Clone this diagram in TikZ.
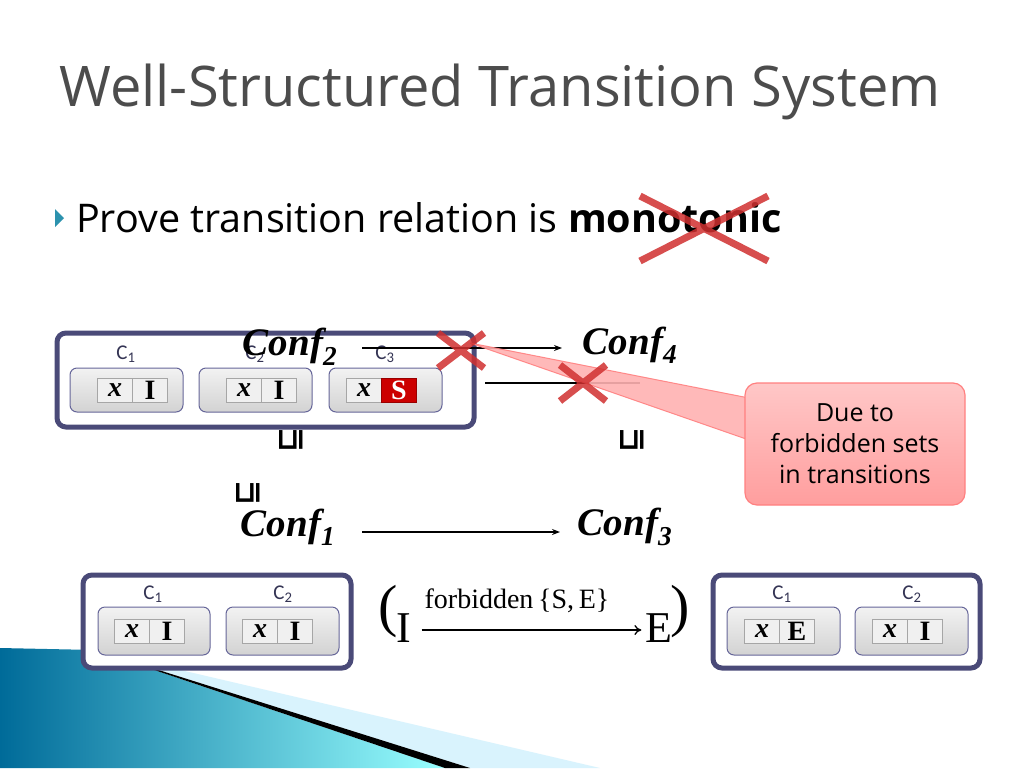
\documentclass[tikz,border=0pt]{standalone}
\usepackage{fontspec}
\setmainfont{Liberation Serif}
\newfontfamily\osfont{Open Sans}
\newfontfamily\calfont{Carlito}
\newfontfamily\djfont{DejaVu Sans}
\usetikzlibrary{arrows.meta,calc,shapes.geometric}
\definecolor{frame}{HTML}{4A4A78}
\definecolor{xred}{HTML}{D03030}
\tikzset{
 frame/.style={draw=frame,line width=5pt,rounded corners=9pt,fill=white},
 compbox/.style={draw=gray!80!blue,line width=1pt,rounded corners=7pt,top color=gray!10,bottom color=gray!35},
 cell/.style={draw=gray!70,line width=0.8pt,fill=gray!12,minimum height=24pt,minimum width=35pt,inner sep=0pt,font=\bfseries\fontsize{28}{28}\selectfont},
 xcell/.style={cell,font=\bfseries\itshape\fontsize{28}{28}\selectfont},
 clab/.style={font=\calfont\fontsize{21}{21}\selectfont,text=frame!70!black},
 conf/.style={font=\bfseries\itshape\fontsize{39}{39}\selectfont},
 arr/.style={-{Stealth[length=8pt,width=6pt]},line width=1.3pt},
 redx/.style={draw=xred,opacity=0.85,line width=7pt},
 order/.style={font=\djfont\bfseries\fontsize{30}{30}\selectfont,rotate=90},
}
\begin{document}
\begin{tikzpicture}[x=1pt,y=-1pt]
\useasboundingbox (0,0) rectangle (1024,768);
\fill[white] (0,0) rectangle (1024,768);
% decoration
\shade[left color=cyan!70!blue!60!black,right color=cyan!40] (0,648) -- (95,650) -- (445,768) -- (0,768) -- cycle;
\fill[cyan!15] (95,650) -- (600,768) -- (470,768) -- cycle;
\fill[black] (95,650) -- (470,768) -- (445,768) -- cycle;
% title
\node[font=\osfont\fontsize{56}{56}\selectfont,text=black!70] (title) at (500,92) {Well-Structured Transition System};
% bullet
\fill[frame!60!cyan] (55,209) -- (64,218) -- (55,227) -- cycle;
\node[anchor=base west,font=\osfont\fontsize{39.5}{39.5}\selectfont,inner sep=0pt] (bullet) at (76,232) {Prove transition relation is \textbf{monotonic}};
\draw[redx] (640,196) -- (768,261) (640,261) -- (768,196);
% top config
\draw[frame] (57,333) rectangle (474,427);
\foreach \xa/\lab in {70/1,199/2,329/3}{
 \draw[compbox] (\xa,368) rectangle ++(113,44);
 \node[clab] at (\xa+56,354) {C\textsubscript{\lab}};
}
\node[xcell] (a1) at (115,390) {x};
\node[cell] (b1) at (150,390) {I};
\node[xcell] (a2) at (244,390) {x};
\node[cell] (b2) at (279,390) {I};
\node[xcell] (a3) at (364,390) {x};
\node[cell,fill=red!80!black,draw=red!60!black,text=white] (b3) at (399,390) {S};
\node[conf] (c2) at (290,347) {Conf\textsubscript{2}};
\node[conf] (c4) at (630,345) {Conf\textsubscript{4}};
\coordinate (a2s) at (362,348); \coordinate (a2e) at (562,348);
\draw[arr] (a2s) -- (a2e);
\coordinate (b2s) at (485,383); \coordinate (b2e) at (640,383);
\draw[line width=1.3pt] (b2s) -- (b2e);
% callout
\draw[draw=red!50,fill=red!30,line width=1pt,opacity=0.9] (749,398) -- (470,343) -- (749,440);
\node[draw=red!50,line width=1.2pt,top color=red!22,bottom color=red!38,rounded corners=12pt,minimum width=220pt,minimum height=122pt,align=center,font=\osfont\fontsize{25}{31}\selectfont] (call) at (855,444) {Due to\\forbidden sets\\in transitions};
\draw[redx] (438,333) -- (484,368) (438,368) -- (484,333);
\draw[redx] (560,365) -- (606,401) (560,401) -- (606,365);
% orders
\node[order] (o1) at (291,440) {⊑};
\node[order] (o2) at (632,440) {⊑};
\node[order] (o3) at (248,493) {⊑};
\node[conf] (c1) at (288,527) {Conf\textsubscript{1}};
\node[conf] (c3) at (625,527) {Conf\textsubscript{3}};
\coordinate (a1s) at (362,532); \coordinate (a1e) at (560,532);
\draw[arr] (a1s) -- (a1e);
% bottom left
\draw[frame] (83,575) rectangle (351,668);
\draw[compbox] (98,607) rectangle (210,655);
\draw[compbox] (226,607) rectangle (339,655);
\node[clab] at (153,594) {C\textsubscript{1}};
\node[clab] at (283,594) {C\textsubscript{2}};
\node[xcell] (d1) at (132,631) {x};
\node[cell] (e1) at (167,631) {I};
\node[xcell] (d2) at (260,631) {x};
\node[cell] (e2) at (295,631) {I};
% bottom right
\draw[frame] (713,575) rectangle (980,668);
\draw[compbox] (727,607) rectangle (840,655);
\draw[compbox] (855,607) rectangle (968,655);
\node[clab] at (782,594) {C\textsubscript{1}};
\node[clab] at (912,594) {C\textsubscript{2}};
\node[xcell] (f1) at (762,631) {x};
\node[cell] (g1) at (797,631) {E};
\node[xcell] (f2) at (890,631) {x};
\node[cell] (g2) at (925,631) {I};
% middle rule
\node[font=\fontsize{58}{58}\selectfont,inner sep=0pt] (lp) at (388,612) {(};
\node[font=\fontsize{58}{58}\selectfont,inner sep=0pt] (rp) at (680,612) {)};
\node[font=\fontsize{44}{44}\selectfont,inner sep=0pt] (ti) at (404,628) {I};
\node[font=\fontsize{44}{44}\selectfont,inner sep=0pt] (te) at (659,628) {E};
\draw[-{To[length=7pt,width=10pt]},line width=1.3pt] ($(ti.east)+(10,2)$) -- ($(te.west)+(-4,2)$);
\node[font=\fontsize{28}{28}\selectfont] (fl) at (517,601) {forbidden\,\{S,\,E\}};
\end{tikzpicture}
\end{document}
